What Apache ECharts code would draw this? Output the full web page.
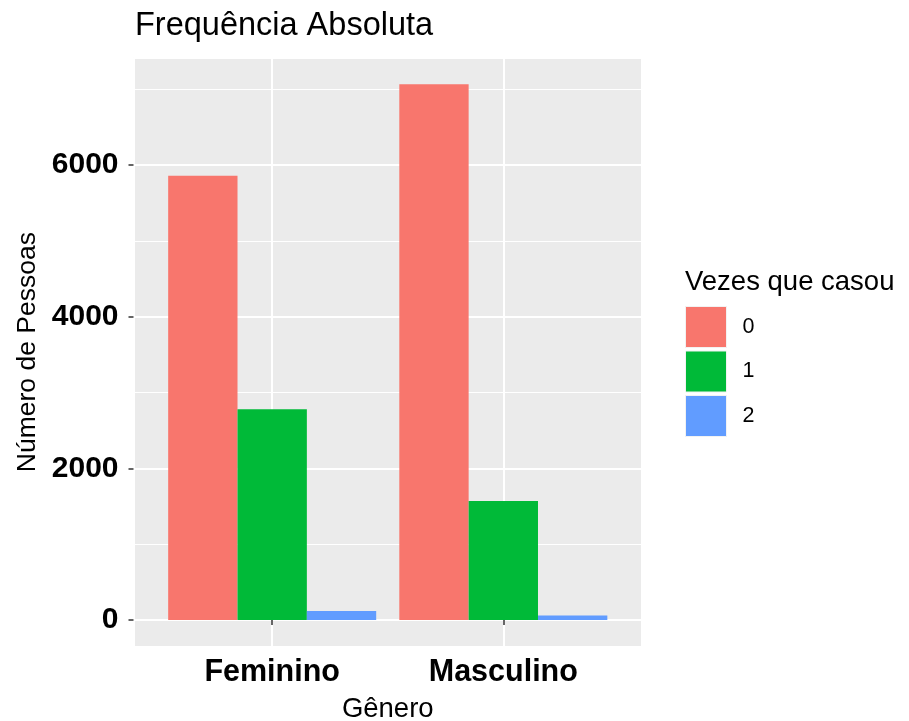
<!DOCTYPE html>
<html>
<head>
<meta charset="utf-8">
<script src="https://cdn.jsdelivr.net/npm/echarts@6/dist/echarts.min.js"></script>
<style>
  html, body { margin: 0; padding: 0; background: #fff; }
  #chart { width: 909px; height: 721px; }
</style>
</head>
<body>
<div id="chart"></div>
<script>
// Dados
const generos = ['Feminino', 'Masculino'];
const vezesCasou = ['0', '1', '2'];
const casou0 = [5857, 7065];
const casou1 = [2780, 1569];
const casou2 = [118, 57];
const cores = ['#F8766D', '#00BA38', '#619CFF'];

const FONT = 'Liberation Sans, Arial, Helvetica, sans-serif';

// ggplot-like 5% expansion of the y range
const dataMax = Math.max(...casou0, ...casou1, ...casou2);
const yMin = -0.05 * dataMax;
const yMax = dataMax * 1.05;

const panel = { left: 133.5, right: 267, top: 57.5, bottom: 74.3 };
// discrete axis: 0.6 band expansion each side -> inner grid
const band = (909 - panel.left - panel.right) / 2.2;
const inset = band * 0.1;

const chart = echarts.init(document.getElementById('chart'));

const serieData = [casou0, casou1, casou2];

chart.setOption({
  animation: false,
  textStyle: { fontFamily: FONT },
  title: [
    {
      text: 'Frequência Absoluta',
      left: 130,
      top: 5,
      textStyle: { fontSize: 32.5, fontWeight: 'normal', color: '#000', fontFamily: FONT }
    },
    {
      text: 'Vezes que casou',
      left: 680,
      top: 263,
      textStyle: { fontSize: 27.5, fontWeight: 'normal', color: '#000', fontFamily: FONT }
    }
  ],
  legend: {
    orient: 'vertical',
    left: 680,
    top: 301,
    itemWidth: 41,
    itemHeight: 41,
    itemGap: 2.5,
    icon: 'rect',
    data: vezesCasou,
    itemStyle: { borderColor: '#F2F2F2', borderWidth: 1 },
    textStyle: { fontSize: 21.5, color: '#000', fontFamily: FONT, padding: [0, 0, 0, 11] }
  },
  grid: [
    {
      left: panel.left,
      right: panel.right,
      top: panel.top,
      bottom: panel.bottom,
      outerBoundsMode: 'none',
      containLabel: false,
      show: true,
      backgroundColor: '#EBEBEB',
      borderWidth: 0
    },
    {
      left: panel.left + inset,
      right: panel.right + inset,
      top: panel.top,
      bottom: panel.bottom,
      outerBoundsMode: 'none',
      containLabel: false
    }
  ],
  xAxis: [
    {
      gridIndex: 0,
      type: 'value',
      min: 0.4,
      max: 2.6,
      minInterval: 1,
      maxInterval: 1,
      axisLine: { show: false },
      axisTick: { show: false },
      axisLabel: { show: false },
      splitLine: { show: true, lineStyle: { color: '#FFFFFF', width: 2 } },
      name: 'Gênero',
      nameLocation: 'middle',
      nameGap: 49,
      nameTextStyle: { fontSize: 27.5, color: '#000', fontFamily: FONT }
    },
    {
      gridIndex: 1,
      type: 'category',
      data: generos,
      boundaryGap: true,
      axisLine: { show: false },
      axisTick: { show: true, alignWithLabel: true, length: 5, lineStyle: { color: '#333', width: 1.5 } },
      axisLabel: { fontSize: 30.5, fontWeight: 'bold', color: '#000', margin: 10, fontFamily: FONT },
      splitLine: { show: false }
    }
  ],
  yAxis: [
    {
      gridIndex: 0,
      type: 'value',
      position: 'left',
      min: yMin,
      max: yMax,
      minInterval: 1000,
      maxInterval: 1000,
      axisLine: { show: false },
      axisTick: { show: false },
      axisLabel: { show: false },
      splitLine: { show: true, lineStyle: { color: '#FFFFFF', width: 1.1 } }
    },
    {
      gridIndex: 0,
      type: 'value',
      position: 'left',
      min: yMin,
      max: yMax,
      minInterval: 2000,
      maxInterval: 2000,
      axisLine: { show: false },
      axisTick: { show: true, length: 5, lineStyle: { color: '#333', width: 1.5 } },
      axisLabel: {
        fontSize: 30,
        fontWeight: 'bold',
        color: '#000',
        margin: 15,
        fontFamily: FONT,
        showMinLabel: false,
        showMaxLabel: false,
        formatter: v => String(v)
      },
      splitLine: { show: true, lineStyle: { color: '#FFFFFF', width: 2.2 } },
      name: 'Número de Pessoas',
      nameLocation: 'middle',
      nameRotate: 90,
      nameGap: 90,
      nameTextStyle: { fontSize: 26.5, color: '#000', fontFamily: FONT }
    },
    {
      gridIndex: 1,
      type: 'value',
      min: yMin,
      max: yMax,
      show: false
    }
  ],
  series: vezesCasou.map((nome, i) => ({
    name: nome,
    type: 'bar',
    xAxisIndex: 1,
    yAxisIndex: 2,
    data: serieData[i],
    barGap: '0%',
    barCategoryGap: '10%',
    itemStyle: { color: cores[i] }
  }))
});
</script>
</body>
</html>
